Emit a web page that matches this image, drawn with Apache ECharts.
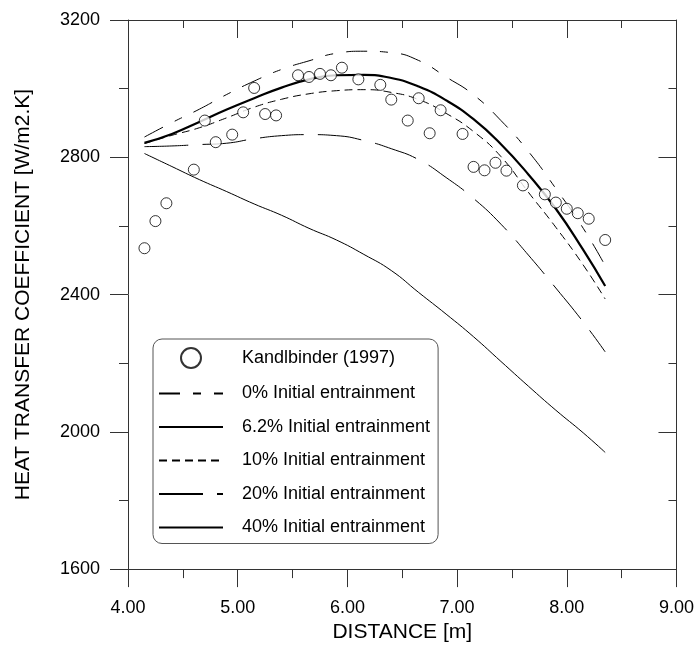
<!DOCTYPE html>
<html>
<head>
<meta charset="utf-8">
<title>Heat transfer coefficient</title>
<script src="https://cdn.jsdelivr.net/npm/echarts@6/dist/echarts.min.js"></script>
<style>
  html, body { margin: 0; padding: 0; background: #fff; }
  #chart { width: 697px; height: 648px; }
</style>
</head>
<body>
<div id="chart"></div>
<script>
// measured points (Kandlbinder 1997)
const expX = [4.15, 4.25, 4.35, 4.6, 4.7, 4.8, 4.95, 5.05, 5.15, 5.25, 5.35, 5.55, 5.65, 5.75, 5.85, 5.95,
  6.1, 6.3, 6.4, 6.55, 6.65, 6.75, 6.85, 7.05, 7.15, 7.25, 7.35, 7.45, 7.6, 7.8, 7.9, 8.0, 8.1, 8.2, 8.35]
const expY = [2535, 2614, 2666, 2764, 2907, 2844, 2866, 2931, 3002, 2926, 2922, 3039, 3034, 3043, 3039, 3061,
  3027, 3011, 2968, 2907, 2972, 2870, 2937, 2868, 2772, 2762, 2784, 2761, 2718, 2692, 2668, 2650, 2637, 2621, 2559]

// model curves, all on the same distances
const curveX = [4.15, 4.4, 4.65, 4.9, 5.15, 5.4, 5.65, 5.9, 6.15, 6.4, 6.65, 6.9, 7.15, 7.4, 7.65, 7.9, 8.15, 8.35]
const ent0 = [2859, 2901, 2940, 2983, 3022, 3056, 3081, 3103, 3109, 3105, 3082, 3034, 2982, 2907, 2817, 2709, 2593, 2484]
const ent6 = [2842, 2868, 2903, 2939, 2972, 3003, 3027, 3039, 3040, 3031, 3006, 2966, 2911, 2838, 2750, 2650, 2530, 2425]
const ent10 = [2840, 2864, 2886, 2915, 2946, 2969, 2985, 2994, 2997, 2989, 2968, 2928, 2875, 2802, 2698, 2596, 2486, 2387]
const ent20 = [2831, 2833, 2837, 2841, 2854, 2863, 2866, 2863, 2849, 2825, 2793, 2741, 2680, 2605, 2515, 2419, 2320, 2233]
const ent40 = [2811, 2773, 2735, 2700, 2664, 2631, 2593, 2559, 2517, 2470, 2406, 2343, 2277, 2205, 2133, 2063, 1997, 1940]

const seriesNames = ['Kandlbinder (1997)', '0% Initial entrainment', '6.2% Initial entrainment',
  '10% Initial entrainment', '20% Initial entrainment', '40% Initial entrainment']

const FONT = 'Liberation Sans'

const pairs = (xs, ys) => xs.map((x, i) => [x, ys[i]])

const lineSeries = (name, ys, width, dash) => ({
  name,
  type: 'line',
  data: pairs(curveX, ys),
  smooth: 0.5,
  symbol: 'none',
  // no symbol: keeps the legend icon a bare line
  itemStyle: { color: 'rgba(0,0,0,0)', borderWidth: 0 },
  lineStyle: { color: '#000', width, type: dash }
})

const axisCommon = (inside) => ({
  type: 'value',
  axisLine: { show: true, onZero: false, lineStyle: { color: '#333', width: 1 } },
  axisTick: { show: true, inside, length: 18, lineStyle: { color: '#333' } },
  minorTick: { show: true, splitNumber: 2, length: inside ? 8 : 9, lineStyle: { color: '#333' } },
  splitLine: { show: false },
  minorSplitLine: { show: false }
})

const option = {
  animation: false,
  backgroundColor: '#fff',
  grid: { left: 128, right: 19, top: 20, bottom: 77 },
  xAxis: [
    Object.assign(axisCommon(false), {
      position: 'bottom', min: 4, max: 9, interval: 1,
      axisLabel: { color: '#000', fontSize: 18, fontFamily: FONT, margin: 30, formatter: v => v.toFixed(2) },
      name: 'DISTANCE [m]', nameLocation: 'middle', nameGap: 51,
      nameTextStyle: { color: '#000', fontSize: 21, fontFamily: FONT }
    }),
    Object.assign(axisCommon(true), {
      position: 'top', min: 4, max: 9, interval: 1, axisLabel: { show: false }
    })
  ],
  yAxis: [
    Object.assign(axisCommon(false), {
      position: 'left', min: 1600, max: 3200, interval: 400,
      axisLabel: { color: '#000', fontSize: 18, fontFamily: FONT, margin: 28, formatter: v => String(v) },
      name: 'HEAT TRANSFER COEFFICIENT [W/m2.K]', nameLocation: 'middle', nameGap: 94,
      nameTextStyle: { color: '#000', fontSize: 21, fontFamily: FONT }
    }),
    Object.assign(axisCommon(true), {
      position: 'right', min: 1600, max: 3200, interval: 400, axisLabel: { show: false }
    })
  ],
  legend: {
    orient: 'vertical',
    left: 153,
    top: 339,
    padding: [8, 8, 7, 5],
    itemWidth: 64,
    itemHeight: 20,
    itemGap: 15.5,
    borderColor: '#555',
    borderWidth: 1,
    borderRadius: 9,
    backgroundColor: '#fff',
    textStyle: { color: '#000', fontSize: 18, fontFamily: FONT, padding: [0, 0, 0, 14] },
    data: seriesNames
  },
  series: [
    {
      name: seriesNames[0],
      type: 'scatter',
      data: pairs(expX, expY),
      symbol: 'circle',
      symbolSize: 11,
      itemStyle: { color: '#fff', borderColor: '#000', borderWidth: 1 },
      z: 5
    },
    lineSeries(seriesNames[1], ent0, 1, [21, 13, 8, 13]),
    lineSeries(seriesNames[2], ent6, 2.2, 'solid'),
    lineSeries(seriesNames[3], ent10, 1, [8, 5]),
    lineSeries(seriesNames[4], ent20, 1, [44, 14]),
    lineSeries(seriesNames[5], ent40, 1, 'solid')
  ]
}

const chart = echarts.init(document.getElementById('chart'), null, { renderer: 'canvas' })
chart.setOption(option)
</script>
</body>
</html>
